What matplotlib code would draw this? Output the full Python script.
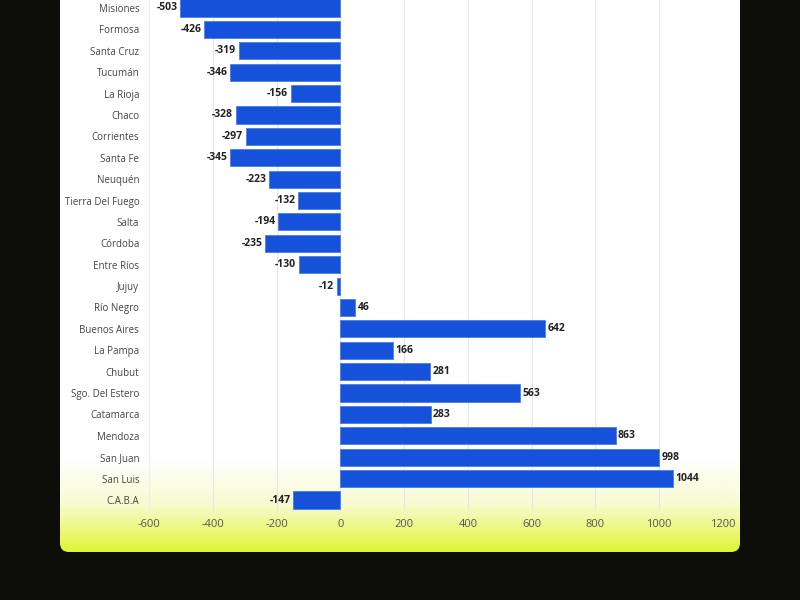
import numpy as np
import matplotlib
matplotlib.use("Agg")
import matplotlib.pyplot as plt
from matplotlib.patches import FancyBboxPatch

provinces = ["Misiones", "Formosa", "Santa Cruz", "Tucumán", "La Rioja", "Chaco",
             "Corrientes", "Santa Fe", "Neuquén", "Tierra Del Fuego", "Salta",
             "Córdoba", "Entre Ríos", "Jujuy", "Río Negro", "Buenos Aires",
             "La Pampa", "Chubut", "Sgo. Del Estero", "Catamarca", "Mendoza",
             "San Juan", "San Luis", "C.A.B.A"]
values = [-503, -426, -319, -346, -156, -328, -297, -345, -223, -132, -194,
          -235, -130, -12, 46, 642, 166, 281, 563, 283, 863, 998, 1044, -147]
x_ticks = [-600, -400, -200, 0, 200, 400, 600, 800, 1000, 1200]

plt.rcParams['font.family'] = ['Open Sans', 'DejaVu Sans']

fig = plt.figure(figsize=(8, 6), dpi=100)
fig.patch.set_facecolor("#0d0d0a")

# panel with white -> yellow gradient
bg = fig.add_axes([0, 0, 1, 1])
bg.set_xlim(0, 800)
bg.set_ylim(600, 0)
bg.axis("off")

grad = np.linspace(0, 1, 300).reshape(-1, 1)
cmap = matplotlib.colors.LinearSegmentedColormap.from_list(
    "panel", [(0, "#ffffff"), (0.84, "#ffffff"), (0.92, "#f7fbd0"), (1.0, "#e2f43a")])
img = bg.imshow(grad, extent=(60, 740, 552, -20), aspect="auto", cmap=cmap,
                interpolation="bilinear", zorder=1)
panel = FancyBboxPatch((60, -20), 680, 572, boxstyle="round,pad=0,rounding_size=9",
                       transform=bg.transData, facecolor="none", edgecolor="none")
bg.add_patch(panel)
img.set_clip_path(panel)

ax = fig.add_axes([149 / 800, 1 - 510.7 / 600, 574 / 800, 513.4 / 600])
ax.set_facecolor("none")
y = np.arange(len(provinces))
ax.barh(y, values, height=0.8, color="#1652d9", edgecolor="#4a7de6", linewidth=0.6, zorder=3)
ax.set_ylim(len(provinces) - 0.5, -0.5)
ax.set_xlim(-600, 1200)
ax.set_xticks(x_ticks)
ax.set_xticklabels([str(t) for t in x_ticks], color="#555555", fontsize=8)
ax.set_yticks(y)
ax.set_yticklabels(provinces, color="#444444", fontsize=7)
ax.tick_params(length=0, pad=7)
ax.tick_params(axis="x", pad=6)
ax.grid(axis="x", color="#e6e6e6", linewidth=0.8, zorder=0)
for s in ["top", "right", "bottom"]:
    ax.spines[s].set_visible(False)
ax.spines["left"].set_color("#eeeeee")

for yi, v in zip(y, values):
    if v < 0:
        ax.text(v - 8, yi, str(v), ha="right", va="center", fontsize=7.5,
                fontweight="bold", color="#222222", zorder=4)
    else:
        ax.text(v + 8, yi, str(v), ha="left", va="center", fontsize=7.5,
                fontweight="bold", color="#222222", zorder=4)

fig.savefig("out.png", dpi=100, facecolor=fig.get_facecolor())
